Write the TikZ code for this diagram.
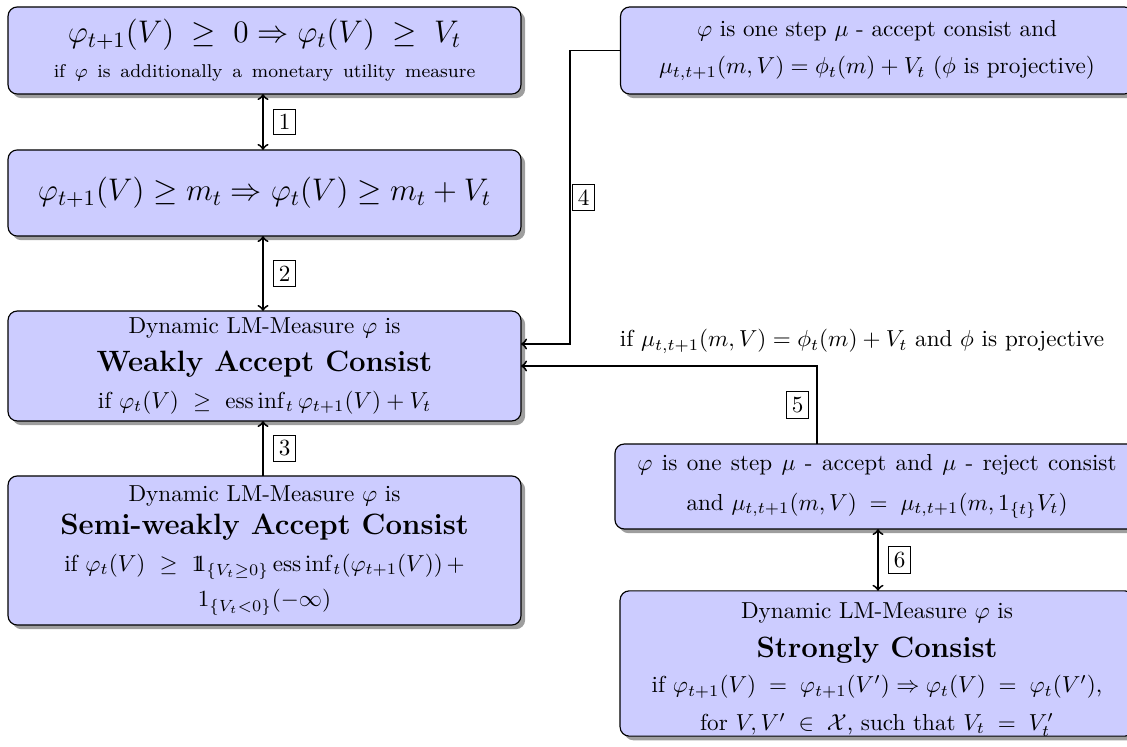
\RequirePackage{fix-cm}
\documentclass[tikz,border=0pt]{standalone}
\usepackage{amsmath,amssymb}
\usetikzlibrary{shadows,calc}
\newcommand{\indone}{\mathrm{1\mkern-6.5mu1}}
\newcommand{\boxtitle}{\fontsize{12.7}{15}\selectfont\bfseries}
\newcommand{\bigmath}{\fontsize{13.5}{16}\selectfont}
\begin{document}
\begin{tikzpicture}[x=0.432pt,y=-0.432pt,
  box/.style={draw=black, line width=0.5pt, fill=blue!20, rounded corners=4pt,
    drop shadow={opacity=1, fill=black!38, shadow xshift=1.8pt, shadow yshift=-1.8pt},
    align=center, inner sep=0pt, outer sep=0pt},
  conn/.style={line width=0.8pt},
  lbl/.style={draw=black, line width=0.4pt, inner sep=2.2pt, fill=white}]
\useasboundingbox (0,0) rectangle (1127,747);

\node[box, minimum width=221.6pt, minimum height=37.6pt] (A) at (264.5,50.5)
  {{\bigmath $\varphi_{t+1}(V) \;\geq\; 0 \Rightarrow \varphi_t(V) \;\geq\; V_t$}\\[3pt]
   {\footnotesize\spaceskip=4.2pt if $\varphi$ is additionally a monetary utility measure}};

\node[box, minimum width=221.6pt, minimum height=37.2pt] (B) at (264.5,193)
  {\bigmath $\varphi_{t+1}(V) \geq m_t \Rightarrow \varphi_t(V) \geq m_t + V_t$};

\node[box, minimum width=221.6pt, minimum height=47.5pt] (C) at (264.5,366)
  {Dynamic LM-Measure $\varphi$ is\\[4pt]
   {\boxtitle Weakly Accept Consist}\\[4pt]
   if $\varphi_t(V) \ \geq\ \operatorname{ess\,inf}_t \varphi_{t+1}(V) + V_t$};

\node[box, minimum width=221.6pt, minimum height=64.4pt] (D) at (264.5,550.5)
  {Dynamic LM-Measure $\varphi$ is\\[2pt]
   {\boxtitle Semi-weakly Accept Consist}\\[4pt]
   if $\varphi_t(V) \ \geq\ \indone_{\{V_t\geq 0\}}\operatorname{ess\,inf}_t(\varphi_{t+1}(V)) \,+$\\[3.5pt]
   $1_{\{V_t<0\}}(-\infty)$};

\node[box, minimum width=221.6pt, minimum height=37.6pt] (E) at (877,50.5)
  {$\varphi$ is one step $\mu$ - accept consist and\\[4pt]
   $\mu_{t,t+1}(m,V) = \phi_t(m) + V_t$ ($\phi$ is projective)};

\node[box, minimum width=226.4pt, minimum height=36.7pt] (F) at (877,486.5)
  {{\spaceskip=4.05pt $\varphi$ is one step $\mu$ - accept and $\mu$ - reject consist}\\[5pt]
   and $\mu_{t,t+1}(m,V) \;=\; \mu_{t,t+1}(m,1_{\{t\}}V_t)$};

\node[box, minimum width=222pt, minimum height=60pt] (G) at (877,663.5)
  {\rule{0pt}{12pt}Dynamic LM-Measure $\varphi$ is\\[4.9pt]
   {\boxtitle Strongly Consist}\\[3.1pt]
   if $\varphi_{t+1}(V) \;=\; \varphi_{t+1}(V') \Rightarrow \varphi_t(V) \;=\; \varphi_t(V')$,\\[4.3pt]
   for $V,V' \;\in\; \mathcal{X}$, such that $V_t \;=\; V'_t$};

\coordinate (k4) at (570,344);
\coordinate (k5) at (817,366);

\draw[conn,<->] ($(A.south)+(-1.5,0)$) -- node[lbl, right=4.5pt] {1} ($(B.north)+(-1.5,0)$);
\draw[conn,<->] ($(B.south)+(-1.5,0)$) -- node[lbl, right=4.5pt] {2} ($(C.north)+(-1.5,0)$);
\draw[conn,->] ($(D.north)+(-1.5,0)$) -- node[lbl, right=4.5pt] {3} ($(C.south)+(-1.5,0)$);
\draw[conn,->] (E.west) -| node[lbl, pos=0.75, right=1pt] {4} (k4) -- (C.east |- k4);
\draw[conn,->] (F.north -| k5) -- node[lbl, left=3.5pt] {5} (k5) -- (C.east |- k5);
\draw[conn,<->] ($(F.south)+(1,0)$) -- node[lbl, right=4.5pt] {6} ($(G.north)+(1,0)$);

\node[anchor=base] (cond5) at (862,347)
  {if $\mu_{t,t+1}(m,V) = \phi_t(m) + V_t$ and $\phi$ is projective};
\end{tikzpicture}
\end{document}
